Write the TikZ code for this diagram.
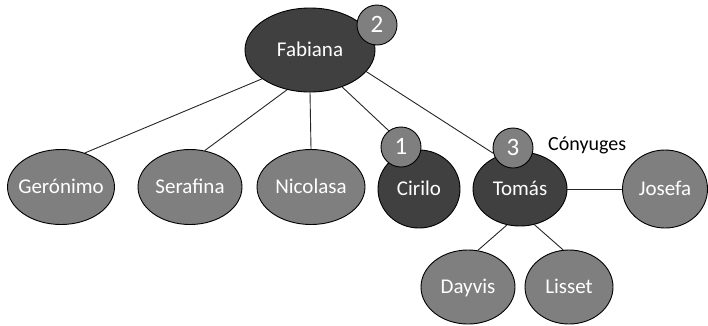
\documentclass[tikz,border=0pt]{standalone}
\usepackage{fontspec}
\setmainfont{Carlito}
\usetikzlibrary{shapes.geometric,backgrounds}
\definecolor{darkfill}{HTML}{404040}
\definecolor{midfill}{HTML}{7F7F7F}
% zero-width box so the ellipse size comes only from minimum width/height
\newcommand\nodetext[1]{\makebox[0pt]{#1}}
\begin{document}
\begin{tikzpicture}[x=1pt,y=-1pt,
  person/.style={ellipse, draw=black, line width=0.9pt, inner sep=0pt,
    text=white, font=\fontsize{21}{21}\selectfont,
    text height=13.5pt, text depth=0pt},
  darkp/.style={person, fill=darkfill},
  lightp/.style={person, fill=midfill},
  badge/.style={circle, draw=black, line width=0.9pt, fill=midfill,
    inner sep=0pt, minimum size=40pt, text=white,
    font=\fontsize{25}{25}\selectfont, text height=15.8pt, text depth=0pt},
  link/.style={draw=black!85, line width=0.9pt}]
\useasboundingbox (0,0) rectangle (708,325);

% people
\node[darkp, minimum width=130pt, minimum height=84pt] (fab) at (310,50) {\nodetext{Fabiana}};
\node[lightp, minimum width=107pt, minimum height=75pt] (ger) at (61,187) {\nodetext{Gerónimo}};
\node[lightp, minimum width=104pt, minimum height=75pt] (ser) at (190,187) {\nodetext{Serafina}};
\node[lightp, minimum width=108pt, minimum height=75pt] (nic) at (311,187) {\nodetext{Nicolasa}};
\node[darkp, minimum width=82pt, minimum height=78pt] (cir) at (419,189) {\nodetext{Cirilo}};
\node[darkp, minimum width=94pt, minimum height=74pt] (tom) at (520,189) {\nodetext{Tomás}};
\node[lightp, minimum width=85pt, minimum height=78pt] (jos) at (665,189) {\nodetext{Josefa}};
\node[lightp, minimum width=94pt, minimum height=74pt] (day) at (468,287) {\nodetext{Dayvis}};
\node[lightp, minimum width=88pt, minimum height=74pt] (lis) at (569,287) {\nodetext{Lisset}};

% order badges
\node[badge] (b2) at (377,25) {2};
\node[badge] (b1) at (401,147) {1};
\node[badge] (b3) at (513,148) {3};

\node[font=\fontsize{20}{20}\selectfont, inner sep=0pt, anchor=west] (cony) at (548,145) {Cónyuges};

% connectors, drawn under the shapes
\begin{scope}[on background layer]
\path[link] (fab.211.7) -- (ger.55.6);
\path[link] (fab.240.6) -- (ser.68.7);
\path[link] (fab.270) -- (nic.90);
\path[link] (fab.311) -- (b1.127);
\path[link] (fab.339) -- (b3.195);
\path[link] (tom.east) -- (jos.west);
\path[link] (tom.250) -- (day.75);
\path[link] (tom.292.6) -- (lis.99);
\end{scope}
\end{tikzpicture}
\end{document}
